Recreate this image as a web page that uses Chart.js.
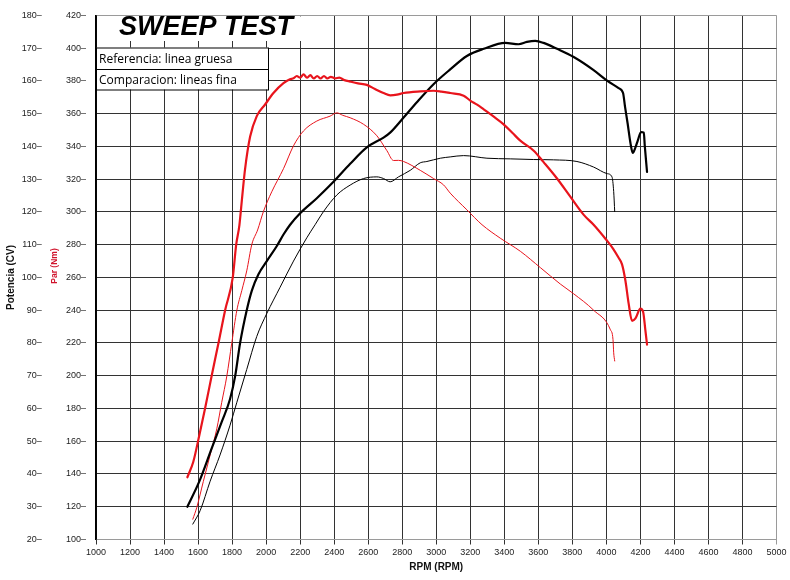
<!DOCTYPE html>
<html>
<head>
<meta charset="utf-8">
<script src="https://cdn.jsdelivr.net/npm/chart.js@4/dist/chart.umd.min.js"></script>
<style>
html,body{margin:0;padding:0;background:#fff;}
#wrap{width:790px;height:580px;}
</style>
</head>
<body>
<div id="wrap"><canvas id="c" width="790" height="580"></canvas></div>
<script>
// ---- Tick values ----
const rpmTicks = [1000,1200,1400,1600,1800,2000,2200,2400,2600,2800,3000,3200,3400,3600,3800,4000,4200,4400,4600,4800,5000];
const cvTicks = [20,30,40,50,60,70,80,90,100,110,120,130,140,150,160,170,180];
const nmTicks = [100,120,140,160,180,200,220,240,260,280,300,320,340,360,380,400,420];

// ---- Texts ----
const chartTitle = "SWEEP TEST";
const legendLines = ["Referencia: linea gruesa", "Comparacion: lineas fina"];
const xTitle = "RPM (RPM)";
const cvTitle = "Potencia (CV)";
const nmTitle = "Par (Nm)";

// ---- Reference torque (thick red), Nm ----
const refTorqueRpm = [1537,1572,1608,1641,1680,1720,1759,1804,1824,1843,1860,1876,1906,1945,1994,2043,2102,2140,2161,2180,2200,2220,2240,2260,2280,2300,2320,2340,2360,2380,2406,2430,2460,2494,2540,2592,2640,2690,2730,2769,2808,2906,2984,3030,3082,3161,3200,3240,3279,3340,3396,3450,3494,3573,3631,3710,3788,3867,3925,3998,4040,4072,4092,4112,4131,4151,4171,4200,4216,4229,4239];
const refTorqueNm  = [138,147.5,164,180,200,220,240,260,280,292,310,326,346,358.5,365.6,372.6,378.6,381,381.6,383,382,384,382,383.5,381.5,383,381.5,383,381.5,382.5,381.6,382,380.5,379.6,378.5,377.6,375,372.6,371.2,371.6,372.6,373.6,374,373.5,372.6,371,368,365.5,362.6,358,353.5,348,343.5,337.4,330.4,320.4,309.3,298.2,292.2,283.2,277.5,272,268,258,244,233.5,235,241,239,228,219];

// ---- Reference power (thick black), CV ----
const refPowerRpm = [1537,1608,1680,1739,1788,1818,1847,1886,1916,1955,2004,2063,2102,2141,2200,2298,2396,2494,2592,2690,2729,2808,2886,2984,3082,3180,3279,3406,3484,3533,3582,3631,3710,3808,3925,4004,4072,4098,4110,4125,4141,4155,4171,4184,4204,4220,4226,4239];
const refPowerCv  = [30,37.8,47.8,55.9,62.9,69.9,80,90,96,101,105,109.6,113.1,116.1,119.6,124.2,129.2,134.7,139.7,142.7,144.2,148.8,153.5,159,163.5,167.6,169.8,171.6,171.2,171.9,172.2,171.6,169.8,167.3,163.3,160.1,157.8,156.3,152,147,141.2,138,139.7,141.7,144.4,144.2,140,132.2];

// ---- Comparison torque (thin red), Nm ----
const cmpTorqueRpm = [1569,1592,1631,1671,1710,1739,1769,1798,1828,1857,1886,1916,1950,1984,2033,2102,2161,2220,2298,2376,2416,2450,2494,2573,2651,2710,2749,2778,2808,2906,2984,3043,3082,3180,3269,3376,3494,3612,3729,3808,3925,4024,4039,4043,4049];
const cmpTorqueNm  = [112.4,119.4,135.5,151.6,167.6,183.7,199.8,219.9,240,252,264,280.2,289,300.2,312.3,326.4,340.4,349.5,355.5,358.5,360.5,359,357.5,353.5,346.5,337.4,331.4,331.5,330.8,325.4,320.4,316.5,311.5,301.3,292.2,284,276,266,256,250,240,228,222,214,209];

// ---- Comparison power (thin black), CV ----
const cmpPowerRpm = [1569,1612,1671,1729,1788,1828,1886,1945,2004,2082,2161,2239,2288,2337,2416,2494,2573,2651,2690,2729,2778,2847,2906,2945,3024,3082,3161,3298,3435,3573,3690,3827,3925,4004,4033,4043,4049];
const cmpPowerCv  = [24.7,28.8,37.8,45.8,54.9,61.9,71.9,82,89,97,105,112.1,116.1,120.1,125.2,128.2,130.2,130.7,130.2,129.2,130.7,132.7,135,135.4,136.4,136.8,137.2,136.4,136.2,136,135.9,135.4,133.7,131.7,130.7,126.2,120.1];

const pts = (xs, ys) => xs.map((x, i) => ({x: x, y: ys[i]}));

const RED = '#e8141c';
const GRID = '#333333';
const LIGHT = '#9a9a9a';

const boxesPlugin = {
  id: 'boxes',
  afterDraw(chart) {
    const ctx = chart.ctx;
    const ca = chart.chartArea;
    ctx.save();
    // title box
    ctx.fillStyle = '#fff';
    ctx.fillRect(ca.left + 1, ca.top + 1, 315 - ca.left, 41 - ca.top - 1);
    ctx.fillStyle = '#000';
    ctx.font = 'italic bold 27px "Liberation Sans", Arial, sans-serif';
    ctx.textAlign = 'center';
    ctx.textBaseline = 'alphabetic';
    ctx.fillText(chartTitle, 206, 35);
    // legend boxes
    const bx = ca.left, bw = 268 - ca.left;
    const rows = [[47.5, 21.5], [69, 20.5]];
    ctx.font = '12px "Open Sans", "Noto Sans", sans-serif';
    ctx.textAlign = 'left';
    ctx.textBaseline = 'middle';
    rows.forEach((r, i) => {
      ctx.fillStyle = '#fff';
      ctx.fillRect(bx, r[0], bw, r[1]);
      ctx.strokeStyle = '#000';
      ctx.lineWidth = 1;
      ctx.strokeRect(bx + 0.5, r[0] + 0.5, bw, r[1]);
      ctx.fillStyle = '#000';
      ctx.fillText(legendLines[i], bx + 3, r[0] + r[1] / 2 + 1);
    });
    // left axis line on top
    ctx.strokeStyle = '#000';
    ctx.lineWidth = 1.5;
    ctx.beginPath();
    ctx.moveTo(ca.left, ca.top);
    ctx.lineTo(ca.left, ca.bottom);
    ctx.stroke();
    // torque axis title
    ctx.translate(55, 266);
    ctx.rotate(-Math.PI / 2);
    ctx.fillStyle = '#d0142c';
    ctx.font = 'bold 8.5px "Liberation Sans", Arial, sans-serif';
    ctx.textAlign = 'center';
    ctx.textBaseline = 'middle';
    ctx.fillText(nmTitle, 0, 0);
    ctx.restore();
  }
};

const tickFont = {family: '"Liberation Sans", Arial, sans-serif', size: 9};

new Chart(document.getElementById('c'), {
  type: 'line',
  data: {
    datasets: [
      {label: 'Ref Par', data: pts(refTorqueRpm, refTorqueNm), yAxisID: 'yNm', borderColor: RED, borderWidth: 2.2},
      {label: 'Ref Potencia', data: pts(refPowerRpm, refPowerCv), yAxisID: 'yCv', borderColor: '#000', borderWidth: 2.2},
      {label: 'Comp Par', data: pts(cmpTorqueRpm, cmpTorqueNm), yAxisID: 'yNm', borderColor: RED, borderWidth: 1},
      {label: 'Comp Potencia', data: pts(cmpPowerRpm, cmpPowerCv), yAxisID: 'yCv', borderColor: '#000', borderWidth: 1}
    ]
  },
  options: {
    responsive: false,
    animation: false,
    devicePixelRatio: 1,
    layout: {padding: {left: 0, right: 13.5, top: 6.5, bottom: 0}},
    elements: {
      point: {radius: 0, hoverRadius: 0},
      line: {cubicInterpolationMode: 'monotone', fill: false, borderCapStyle: 'round', borderJoinStyle: 'round'}
    },
    plugins: {legend: {display: false}, tooltip: {enabled: false}, title: {display: false}},
    scales: {
      x: {
        type: 'linear', position: 'bottom', min: 1000, max: 5000,
        afterBuildTicks: s => { s.ticks = rpmTicks.map(v => ({value: v})); },
        afterFit: s => { s.height = 40.5; },
        ticks: {autoSkip: false, maxRotation: 0, padding: 3, color: '#222', font: tickFont, callback: v => String(v)},
        grid: {
          color: c => (c.tick && c.tick.value === 5000) ? LIGHT : GRID,
          lineWidth: 1, tickLength: 5, drawTicks: true
        },
        border: {display: true, color: LIGHT, width: 1},
        title: {display: true, text: xTitle, color: '#111', font: {family: '"Liberation Sans", Arial, sans-serif', size: 10, weight: 'bold'}, padding: {top: 0, bottom: 7}}
      },
      yNm: {
        type: 'linear', position: 'left', weight: 1, min: 100, max: 420,
        afterBuildTicks: s => { s.ticks = nmTicks.map(v => ({value: v})); },
        afterFit: s => { s.width = 50; },
        ticks: {padding: 10, color: '#222', font: tickFont, callback: v => v + '\u2013'},
        grid: {
          color: c => (c.tick && c.tick.value === 420) ? LIGHT : GRID,
          lineWidth: 1, drawTicks: false
        },
        border: {display: true, color: '#000', width: 1.5},
        title: {display: false, text: nmTitle}
      },
      yCv: {
        type: 'linear', position: 'left', weight: 2, min: 20, max: 180,
        afterBuildTicks: s => { s.ticks = cvTicks.map(v => ({value: v})); },
        afterFit: s => { s.width = 46; },
        ticks: {padding: 4.3, color: '#222', font: tickFont, callback: v => v + '\u2013'},
        grid: {display: false, drawOnChartArea: false, drawTicks: false},
        border: {display: false},
        title: {display: true, text: cvTitle, color: '#111', font: {family: '"Liberation Sans", Arial, sans-serif', size: 10, weight: 'bold'}, padding: {top: 5, bottom: 0}}
      }
    }
  },
  plugins: [boxesPlugin]
});
</script>
</body>
</html>
